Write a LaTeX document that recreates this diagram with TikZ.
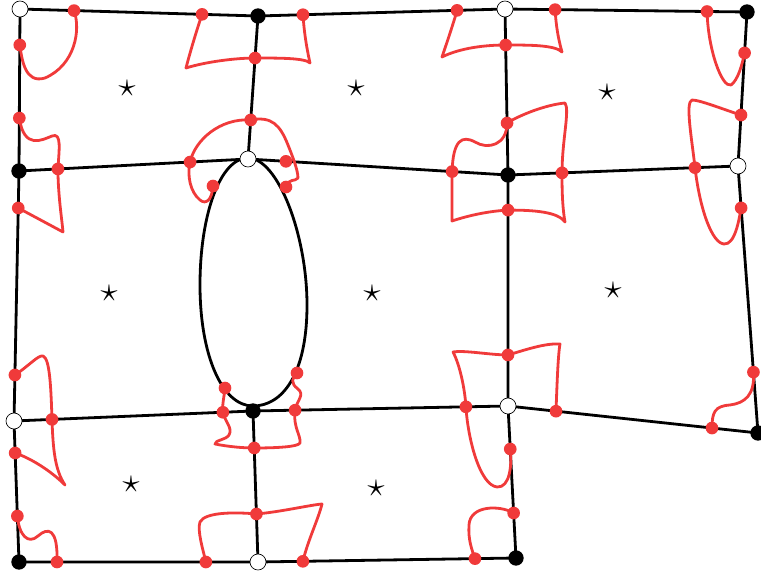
\documentclass[tikz,border=0pt]{standalone}
\usetikzlibrary{calc}
\definecolor{redc}{RGB}{240,58,58}
\tikzset{
 edge/.style={line width=2.1pt, black},
 rcurve/.style={line width=2.1pt, redc, line join=round, line cap=round},
 rdot/.style={circle, fill=redc, inner sep=0pt, minimum size=9.5pt},
 vfill/.style={circle, fill=black, inner sep=0pt, minimum size=11.5pt},
 vopen/.style={circle, draw=black, line width=0.5pt, fill=white, inner sep=0pt, minimum size=12pt},
 starnode/.style={font=\LARGE, inner sep=0pt, scale=1.5},
}
\begin{document}
\begin{tikzpicture}[x=0.75pt,y=-0.75pt]
\useasboundingbox (0,0) rectangle (761,574);
% mesh vertices
\coordinate (v1) at (20,9);
\coordinate (v2) at (258,16);
\coordinate (v3) at (505,9);
\coordinate (v4) at (747,12);
\coordinate (v5) at (19,171);
\coordinate (v6) at (248,159);
\coordinate (v7) at (508,175);
\coordinate (v8) at (738,166);
\coordinate (v9) at (14,421);
\coordinate (v10) at (253,411);
\coordinate (v11) at (508,406);
\coordinate (v12) at (758,433);
\coordinate (v13) at (19,562);
\coordinate (v14) at (258,562);
\coordinate (v15) at (516,558);
% mesh edges
\draw[edge] (v1) -- (v2) -- (v3) -- (v4);
\draw[edge] (v1) -- (v5) -- (v9) -- (v13) -- (v14) -- (v15);
\draw[edge] (v2) -- (v6);
\draw[edge] (v3) -- (v7) -- (v11) -- (v15);
\draw[edge] (v4) -- (v8) -- (v12);
\draw[edge] (v5) -- (v6) -- (v7) -- (v8);
\draw[edge] (v9) -- (v10) -- (v11) -- (v12);
\draw[edge] (v10) -- (v14);
% hole
\draw[edge] (248,158) .. controls (278,158) and (307,235) .. (307,305)
  .. controls (307,375) and (282,406) .. (253,406)
  .. controls (222,406) and (200,355) .. (200,285)
  .. controls (200,215) and (220,158) .. cycle;
% red dot positions on edges
\coordinate (a1) at ($(v1)!0.227!(v2)$);
\coordinate (b1) at ($(v1)!0.765!(v2)$);
\coordinate (b3) at ($(v2)!0.182!(v3)$);
\coordinate (d1) at ($(v2)!0.806!(v3)$);
\coordinate (d3) at ($(v3)!0.207!(v4)$);
\coordinate (g1) at ($(v3)!0.835!(v4)$);
\coordinate (a2) at ($(v1)!0.222!(v5)$);
\coordinate (c1) at ($(v1)!0.673!(v5)$);
\coordinate (b2) at ($(v2)!0.294!(v6)$);
\coordinate (f3) at ($(v2)!0.727!(v6)$);
\coordinate (d2) at ($(v3)!0.217!(v7)$);
\coordinate (e1) at ($(v3)!0.687!(v7)$);
\coordinate (g2) at ($(v4)!0.266!(v8)$);
\coordinate (h1) at ($(v4)!0.669!(v8)$);
\coordinate (c2) at ($(v5)!0.170!(v6)$);
\coordinate (f1) at ($(v5)!0.747!(v6)$);
\coordinate (f4) at ($(v6)!0.146!(v7)$);
\coordinate (e2) at ($(v6)!0.785!(v7)$);
\coordinate (e4) at ($(v7)!0.235!(v8)$);
\coordinate (h2) at ($(v7)!0.813!(v8)$);
\coordinate (c3) at ($(v5)!0.148!(v9)$);
\coordinate (i1) at ($(v5)!0.816!(v9)$);
\coordinate (e3) at ($(v7)!0.152!(v11)$);
\coordinate (k1) at ($(v7)!0.779!(v11)$);
\coordinate (h3) at ($(v8)!0.157!(v12)$);
\coordinate (l1) at ($(v8)!0.772!(v12)$);
\coordinate (i2) at ($(v9)!0.159!(v10)$);
\coordinate (m2) at ($(v9)!0.874!(v10)$);
\coordinate (m4) at ($(v10)!0.165!(v11)$);
\coordinate (k2) at ($(v10)!0.835!(v11)$);
\coordinate (k5) at ($(v11)!0.192!(v12)$);
\coordinate (l2) at ($(v11)!0.816!(v12)$);
\coordinate (i3) at ($(v9)!0.227!(v13)$);
\coordinate (j1) at ($(v9)!0.674!(v13)$);
\coordinate (m5) at ($(v10)!0.245!(v14)$);
\coordinate (n2) at ($(v10)!0.682!(v14)$);
\coordinate (k4) at ($(v11)!0.283!(v15)$);
\coordinate (o1) at ($(v11)!0.704!(v15)$);
\coordinate (j2) at ($(v13)!0.159!(v14)$);
\coordinate (n1) at ($(v13)!0.782!(v14)$);
\coordinate (n3) at ($(v14)!0.174!(v15)$);
\coordinate (o2) at ($(v14)!0.841!(v15)$);
% dots on the hole
\coordinate (f2) at (213,186);
\coordinate (f5) at (286,187);
\coordinate (m1) at (225,388);
\coordinate (m3) at (297,373);
% red curves
\draw[rcurve] (a1) .. controls (81,30) and (75,65) .. (45,78) .. controls (25,84) and (22,60) .. (a2);
\draw[rcurve] (b1) .. controls (195,35) and (188,60) .. (186,68) .. controls (205,62) and (235,58) .. (b2)
  .. controls (280,58) and (305,58) .. (310,63) .. controls (306,45) and (304,30) .. (b3);
\draw[rcurve] (c1) .. controls (24,150) and (42,140) .. (52,136) .. controls (62,132) and (59,150) .. (c2)
  .. controls (58,195) and (62,220) .. (63,232) -- (c3);
\draw[rcurve] (d1) .. controls (452,28) and (445,48) .. (442,57) .. controls (460,48) and (485,45) .. (d2)
  .. controls (530,45) and (555,45) .. (562,52) .. controls (558,38) and (556,25) .. (d3);
\draw[rcurve] (e1) .. controls (507,145) and (488,150) .. (475,142) .. controls (462,135) and (453,140) .. (e2)
  .. controls (452,190) and (452,210) .. (452,221) .. controls (470,215) and (490,211) .. (e3)
  .. controls (535,210) and (558,212) .. (565,222) .. controls (562,205) and (562,185) .. (e4)
  .. controls (562,140) and (570,110) .. (565,103) .. controls (545,105) and (520,115) .. (e1);
\draw[rcurve] (f2) .. controls (212,200) and (206,205) .. (200,200) .. controls (190,192) and (187,175) .. (f1)
  .. controls (195,140) and (220,118) .. (f3) .. controls (272,116) and (280,125) .. (288,145)
  .. controls (292,155) and (298,170) .. (298,178) .. controls (295,182) and (288,178) .. (f5);
\draw[rcurve] (g1) .. controls (708,50) and (722,88) .. (731,85) .. controls (738,80) and (742,65) .. (g2);
\draw[rcurve] (h1) .. controls (725,110) and (700,100) .. (692,100) .. controls (685,102) and (692,140) .. (h2)
  .. controls (700,210) and (712,243) .. (724,244) .. controls (735,245) and (739,220) .. (h3);
\draw[rcurve] (i1) .. controls (30,365) and (38,355) .. (43,356) .. controls (50,358) and (51,390) .. (i2)
  .. controls (53,450) and (55,470) .. (65,485) .. controls (50,470) and (30,458) .. (i3);
\draw[rcurve] (j1) .. controls (19,535) and (28,545) .. (38,536) .. controls (48,527) and (58,528) .. (j2);
\draw[rcurve] (k5) .. controls (557,385) and (558,355) .. (560,344) .. controls (545,343) and (525,350) .. (k1)
  .. controls (490,355) and (465,350) .. (453,352) .. controls (460,365) and (465,390) .. (k2)
  .. controls (468,440) and (480,485) .. (497,487) .. controls (510,488) and (512,465) .. (k4);
\draw[rcurve] (l1) .. controls (755,395) and (745,403) .. (730,405) .. controls (715,406) and (712,412) .. (l2);
\draw[rcurve] (m1) .. controls (224,398) and (222,405) .. (m2) .. controls (225,422) and (233,428) .. (229,435)
  .. controls (226,440) and (215,440) .. (215,444) .. controls (230,447) and (245,448) .. (m5)
  .. controls (275,448) and (298,447) .. (300,443) .. controls (301,435) and (293,428) .. (m4)
  .. controls (297,400) and (305,395) .. (298,389) .. controls (290,383) and (292,378) .. (m3);
\draw[rcurve] (n1) .. controls (203,550) and (197,530) .. (200,522) .. controls (205,512) and (235,512) .. (n2)
  .. controls (280,512) and (310,505) .. (322,504) .. controls (318,520) and (308,540) .. (n3);
\draw[rcurve] (o1) .. controls (500,505) and (470,505) .. (469,525) .. controls (468,540) and (472,550) .. (o2);
% red dots
\foreach \p in {a1,a2,b1,b2,b3,c1,c2,c3,d1,d2,d3,e1,e2,e3,e4,f1,f2,f3,f4,f5,g1,g2,h1,h2,h3,i1,i2,i3,j1,j2,k1,k2,k4,k5,l1,l2,m1,m2,m3,m4,m5,n1,n2,n3,o1,o2}
  \node[rdot] (dot-\p) at (\p) {};
% vertex markers
\foreach \v in {2,4,5,7,10,12,13,15}
  \node[vfill] (V\v) at (v\v) {};
\foreach \v in {1,3,6,8,9,11,14}
  \node[vopen] (V\v) at (v\v) {};
% stars
\node[starnode] (s1) at (127,88) {$\star$};
\node[starnode] (s2) at (356,88) {$\star$};
\node[starnode] (s3) at (607,92) {$\star$};
\node[starnode] (s4) at (109,293) {$\star$};
\node[starnode] (s5) at (372,293) {$\star$};
\node[starnode] (s6) at (613,290) {$\star$};
\node[starnode] (s7) at (131,484) {$\star$};
\node[starnode] (s8) at (376,488) {$\star$};
\end{tikzpicture}
\end{document}
